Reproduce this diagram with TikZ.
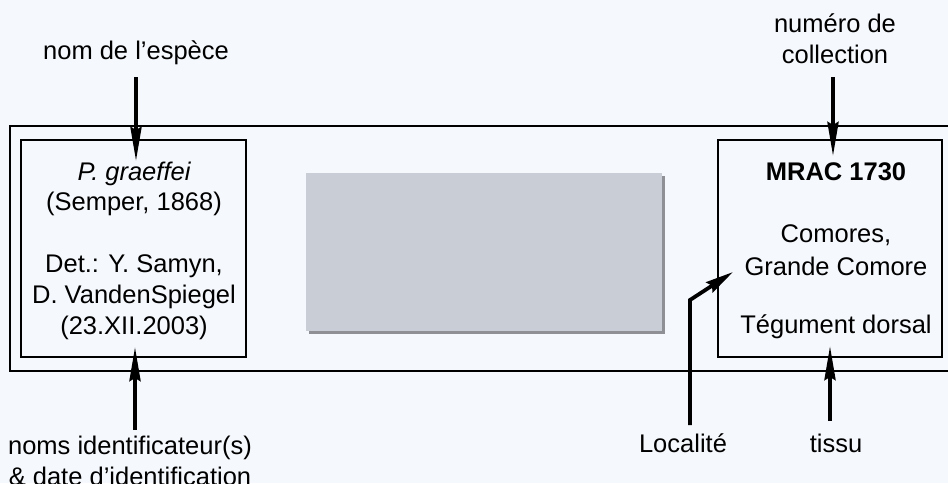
\documentclass[tikz,border=0pt]{standalone}
\usepackage{fontspec}
\setmainfont{Liberation Sans}
\usetikzlibrary{arrows.meta}
\definecolor{bgpale}{HTML}{F5F8FC}
\definecolor{cardgray}{HTML}{C9CDD5}
\definecolor{shadowgray}{HTML}{8E9096}
\tikzset{
  lbl/.style={font=\fontsize{25.5}{31}\selectfont, align=center, inner sep=0pt},
  frame/.style={draw=black, line width=1.4pt},
  pointer/.style={line width=3.8pt, -{Stealth[length=34pt,width=11pt,inset=3pt]}},
  shortpointer/.style={line width=3.8pt, -{Stealth[length=28pt,width=12pt,inset=3pt]}},
}
\begin{document}
\begin{tikzpicture}[x=1pt,y=-1pt]
  \useasboundingbox (0,0) rectangle (948,483);
  \clip (0,0) rectangle (948,483);
  \fill[bgpale] (0,0) rectangle (948,483);

  % label strip
  \draw[frame] (960,126) -- (10,126) -- (10,371) -- (960,371);

  % left and right panels
  \draw[frame] (21,140) rectangle (246,357);
  \draw[frame] (718,140) rectangle (942,357);

  % blank grey plate with shadow
  \fill[shadowgray] (309,176) rectangle (665,334);
  \fill[cardgray] (306,173) rectangle (662,331);

  % panel texts
  \node[lbl] (sp) at (134,174) {\itshape P. graeffei};
  \node[lbl] (au) at (134,204) {(Semper, 1868)};
  \node[lbl] (d1) at (134,266) {Det.: Y. Samyn,};
  \node[lbl] (d2) at (134,297) {D. VandenSpiegel};
  \node[lbl] (d3) at (134,328) {(23.XII.2003)};

  \node[lbl] (mr) at (836,172) {\bfseries MRAC 1730};
  \node[lbl] (c1) at (836,235) {Comores,};
  \node[lbl] (c2) at (836,266) {Grande Comore};
  \node[lbl] (tg) at (836,327) {Tégument dorsal};

  % outside captions
  \node[lbl] (nom) at (136,53) {nom de l’espèce};
  \node[lbl] (num) at (835,39) {numéro de\\collection};
  \node[lbl] (ident) at (130,461) {noms identificateur(s)\\\& date d’identification};
  \node[lbl] (loc) at (683,443) {Localité};
  \node[lbl] (tis) at (836,443) {tissu};

  % connector anchors
  \coordinate (a1s) at (136,77);  \coordinate (a1e) at (136,161);
  \coordinate (a2s) at (135,430); \coordinate (a2e) at (135,347);
  \coordinate (a3s) at (833,77);  \coordinate (a3e) at (833,156);
  \coordinate (a4s) at (830,421); \coordinate (a4e) at (830,346);
  \coordinate (a5s) at (690,425); \coordinate (a5m) at (690,300);
  \coordinate (a5e) at (733,272);

  \draw[pointer] (a1s) -- (a1e);
  \draw[pointer] (a2s) -- (a2e);
  \draw[pointer] (a3s) -- (a3e);
  \draw[pointer] (a4s) -- (a4e);
  \draw[shortpointer] (a5s) -- (a5m) -- (a5e);
\end{tikzpicture}
\end{document}
